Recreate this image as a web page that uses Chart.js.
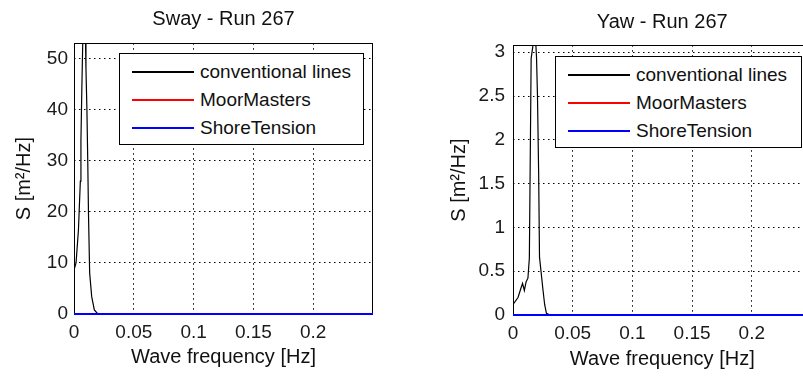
<!DOCTYPE html>
<html>
<head>
<meta charset="utf-8">
<script src="https://cdn.jsdelivr.net/npm/chart.js@4.4.0/dist/chart.umd.min.js"></script>
<style>
    html, body { margin: 0; padding: 0; background: #fff; width: 803px; height: 376px; overflow: hidden; }
    .grafico { position: absolute; top: 0; height: 376px; }
    #caixaSway { left: 0; width: 400px; }
    #caixaYaw { left: 440px; width: 440px; }
    .legenda {
        position: absolute; z-index: 5; background: #fff; border: 1px solid #000; box-sizing: border-box;
        font-family: "Liberation Sans", Arial, sans-serif; font-size: 19px; color: #111; padding-top: 4px;
    }
    .legenda div { position: relative; height: 28px; line-height: 28px; white-space: nowrap; padding-left: 80px; }
    .legenda .amostra { position: absolute; left: 12px; top: 13px; width: 62px; height: 2px; }
    #legendaSway { left: 119px; top: 53px; width: 245px; height: 92px; }
    #legendaYaw { left: 555px; top: 56px; width: 247px; height: 92px; }
</style>
</head>
<body>
<div class="grafico" id="caixaSway"><canvas id="chartSway"></canvas></div>
<div class="grafico" id="caixaYaw"><canvas id="chartYaw"></canvas></div>
<div class="legenda" id="legendaSway"></div>
<div class="legenda" id="legendaYaw"></div>
<script>
var titulos = ['Sway - Run 267', 'Yaw - Run 267'];
var tituloX = 'Wave frequency [Hz]';
var tituloY = 'S [m²/Hz]';
var nomesSeries = ['conventional lines', 'MoorMasters', 'ShoreTension'];
var coresSeries = ['#000000', '#ff0000', '#0000ff'];

// espectro sway (conventional lines)
var freqSway = [0, 0.0017, 0.0037, 0.0053, 0.0058, 0.0065, 0.0073, 0.0085, 0.0095, 0.0100, 0.0108, 0.0115, 0.0121, 0.0131, 0.0148, 0.0170, 0.0192, 0.0220, 0.25];
var dadosSway = [8.6, 10, 16.4, 26, 34, 43.3, 53, 60, 55, 48, 40, 30, 19.7, 8, 3.4, 0.8, 0.2, 0, 0];

// espectro yaw (conventional lines)
var freqYaw = [0, 0.0042, 0.0065, 0.0080, 0.0095, 0.0110, 0.0125, 0.0137, 0.0152, 0.0185, 0.0197, 0.0205, 0.0215, 0.0222, 0.0250, 0.0265, 0.0280, 0.0310, 0.25];
var dadosYaw = [0.12, 0.2, 0.3, 0.36, 0.28, 0.38, 0.42, 0.65, 2.93, 3.25, 2.94, 2.5, 1.6, 0.66, 0.3, 0.12, 0.02, 0, 0];

// MoorMasters e ShoreTension ficam em zero nos dois casos
var freqZero = [0, 0.25];
var dadosMoorMasters = [0, 0];
var dadosShoreTension = [0, 0];

var ticksX = [0, 0.05, 0.1, 0.15, 0.2];
var ticksSway = [0, 10, 20, 30, 40, 50];
var ticksYaw = [0, 0.5, 1, 1.5, 2, 2.5, 3];

var fonte = "'Liberation Sans', Arial, sans-serif";

function pontos(freq, valores) {
    return freq.map(function (f, i) { return { x: f, y: valores[i] }; });
}

function rotuloTick(valor) {
    return String(Number(valor.toFixed(3)));
}

const caixaEixos = {
    id: 'caixaEixos',
    beforeDatasetsDraw(chart) {
        const a = chart.chartArea;
        const ctx = chart.ctx;
        ctx.save();
        ctx.strokeStyle = '#000';
        ctx.lineWidth = 1;
        ctx.strokeRect(Math.round(a.left) + 0.5, Math.round(a.top) + 0.5,
            Math.round(a.right - a.left) - 1, Math.round(a.bottom - a.top) - 1);
        ctx.restore();
    }
};

function criarConfig(titulo, freq, valores, ticksY, yMax, medidas) {
    // ordem de desenho: ShoreTension por cima, depois conventional lines, MoorMasters por baixo
    const data = {
        datasets: [{
            label: nomesSeries[0],
            data: pontos(freq, valores),
            borderColor: coresSeries[0],
            borderWidth: 1.2,
            order: 1
        }, {
            label: nomesSeries[1],
            data: pontos(freqZero, dadosMoorMasters),
            borderColor: coresSeries[1],
            borderWidth: 2,
            clip: 3,
            order: 2
        }, {
            label: nomesSeries[2],
            data: pontos(freqZero, dadosShoreTension),
            borderColor: coresSeries[2],
            borderWidth: 2,
            clip: 3,
            order: 0
        }]
    };

    return {
        type: 'line',
        data: data,
        plugins: [caixaEixos],
        options: {
            responsive: true,
            maintainAspectRatio: false,
            animation: false,
            elements: { point: { radius: 0 }, line: { tension: 0 } },
            layout: { padding: { left: 0, right: medidas.direita, top: 0, bottom: 0 } },
            plugins: {
                legend: { display: false },
                tooltip: { enabled: false },
                title: {
                    display: true,
                    text: titulo,
                    fullSize: false,
                    color: '#111',
                    font: { family: fonte, size: 20, weight: 'normal' },
                    padding: { top: medidas.tituloTopo, bottom: medidas.tituloBase }
                }
            },
            scales: {
                x: {
                    type: 'linear',
                    min: 0,
                    max: 0.25,
                    afterBuildTicks: function (eixo) { eixo.ticks = ticksX.map(function (v) { return { value: v }; }); },
                    afterFit: function (eixo) { eixo.height = medidas.alturaX; },
                    grid: { color: '#000', lineWidth: 1, drawTicks: false },
                    border: { display: false, dash: [1.5, 3.5] },
                    ticks: { color: '#1a1a1a', padding: 7, font: { family: fonte, size: 19 }, maxRotation: 0, callback: rotuloTick },
                    title: {
                        display: true, text: tituloX, color: '#111',
                        font: { family: fonte, size: 20 },
                        padding: { top: 0, bottom: medidas.tituloXBase }
                    }
                },
                y: {
                    min: 0,
                    max: yMax,
                    afterBuildTicks: function (eixo) { eixo.ticks = ticksY.map(function (v) { return { value: v }; }); },
                    afterFit: function (eixo) { eixo.width = medidas.larguraY; },
                    grid: { color: '#000', lineWidth: 1, drawTicks: false },
                    border: { display: false, dash: [1.5, 3.5] },
                    ticks: { color: '#1a1a1a', padding: medidas.padTickY, font: { family: fonte, size: 19 }, callback: rotuloTick },
                    title: {
                        display: true, text: tituloY, color: '#111',
                        font: { family: fonte, size: 20 },
                        padding: { top: medidas.tituloYTopo, bottom: 0 }
                    }
                }
            }
        }
    };
}

function montarLegenda(chart, idLegenda) {
    var caixa = document.getElementById(idLegenda);
    chart.data.datasets.forEach(function (ds) {
        var linha = document.createElement('div');
        var amostra = document.createElement('span');
        amostra.className = 'amostra';
        amostra.style.backgroundColor = ds.borderColor;
        linha.appendChild(amostra);
        linha.appendChild(document.createTextNode(ds.label));
        caixa.appendChild(linha);
    });
}

const chartSway = new Chart(
    document.getElementById('chartSway'),
    criarConfig(titulos[0], freqSway, dadosSway, ticksSway, 53, {
        direita: 27, tituloTopo: 7.6, tituloBase: 11.6, alturaX: 62,
        tituloXBase: 6.6, larguraY: 74, padTickY: 6, tituloYTopo: 12.6
    })
);

const chartYaw = new Chart(
    document.getElementById('chartYaw'),
    criarConfig(titulos[1], freqYaw, dadosYaw, ticksYaw, 3.08, {
        direita: 68.5, tituloTopo: 10.6, tituloBase: 10.6, alturaX: 61,
        tituloXBase: 4.6, larguraY: 73, padTickY: 8, tituloYTopo: 7.6
    })
);

montarLegenda(chartSway, 'legendaSway');
montarLegenda(chartYaw, 'legendaYaw');
</script>
</body>
</html>
